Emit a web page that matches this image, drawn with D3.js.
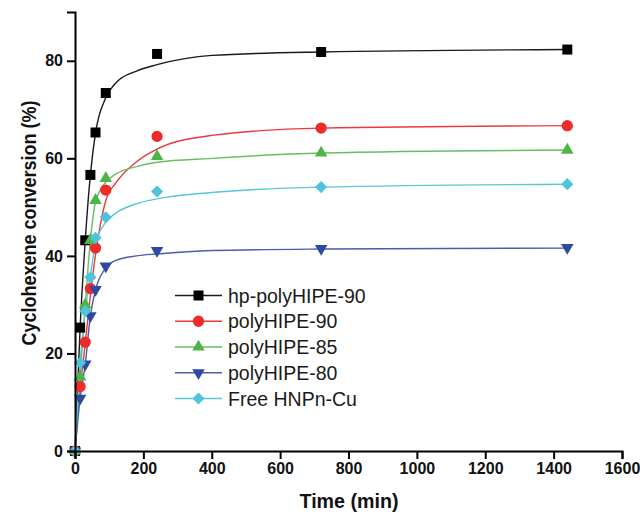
<!DOCTYPE html>
<html>
<head>
<meta charset="utf-8">
<script src="https://cdn.jsdelivr.net/npm/d3@7"></script>
<style>
  html, body { margin: 0; padding: 0; background: #fff; }
  svg { display: block; font-family: "Liberation Sans", Arial, Helvetica, sans-serif; }
</style>
</head>
<body>
<svg id="chart" width="640" height="515"></svg>
<script>
// ---- data ----
const times = [0, 15, 30, 45, 60, 90, 240, 720, 1440];
const hpPolyHIPE90 = [0, 25.3, 43.2, 56.6, 65.3, 73.4, 81.4, 81.8, 82.3];
const polyHIPE90   = [0, 13.2, 22.3, 33.3, 41.6, 53.5, 64.5, 66.2, 66.7];
const polyHIPE85   = [0, 15.2, 30.0, 43.2, 51.4, 55.9, 60.4, 61.1, 61.7];
const polyHIPE80   = [0, 10.8, 17.8, 27.7, 33.1, 37.9, 41.1, 41.5, 41.7];
const freeHNPnCu   = [0, 18.1, 28.7, 35.6, 43.7, 47.9, 53.2, 54.1, 54.7];

// fitted curves
const fitTimes = [0, 15, 30, 45, 60, 90, 120, 180, 240, 400, 720, 1440];
const fitHp    = [0, 25.3, 43.2, 56.6, 65.2, 72.4, 75.5, 77.9, 79.2, 81.1, 81.8, 82.3];
const fit90    = [0, 12.8, 22.0, 32.0, 40.2, 51.3, 55.0, 59.3, 61.9, 64.7, 66.2, 66.7];
const fit85    = [0, 15.2, 30.0, 43.2, 51.0, 55.1, 56.8, 58.3, 59.2, 60.0, 61.1, 61.7];
const fit80    = [0, 10.8, 17.8, 27.7, 33.0, 37.5, 39.1, 40.0, 40.4, 41.1, 41.4, 41.6];
const fitFree  = [0, 18.1, 28.7, 36.0, 42.5, 46.9, 48.8, 50.7, 51.7, 53.0, 54.1, 54.7];

const seriesNames = ["hp-polyHIPE-90", "polyHIPE-90", "polyHIPE-85", "polyHIPE-80", "Free HNPn-Cu"];
const xTicks = [0, 200, 400, 600, 800, 1000, 1200, 1400, 1600];
const yTicks = [0, 20, 40, 60, 80];
const xTitle = "Time (min)";
const yTitle = "Cyclohexene conversion (%)";

// ---- styling ----
const styles = [
  { values: hpPolyHIPE90, fit: fitHp,   line: "#1a1a1a", fill: "#000000", shape: "square" },
  { values: polyHIPE90,   fit: fit90,   line: "#e8393c", fill: "#ee2a2a", shape: "circle" },
  { values: polyHIPE85,   fit: fit85,   line: "#68bd62", fill: "#4db548", shape: "triUp" },
  { values: polyHIPE80,   fit: fit80,   line: "#4a5cab", fill: "#2d4aa3", shape: "triDown" },
  { values: freeHNPnCu,   fit: fitFree, line: "#58c6da", fill: "#4fc3d9", shape: "diamond" }
];

const svg = d3.select("#chart");
const x = d3.scaleLinear().domain([0, 1600]).range([75, 622]);
const y = d3.scaleLinear().domain([0, 90]).range([451, 12]);

function shapePath(shape) {
  switch (shape) {
    case "square":  return d3.symbol(d3.symbolSquare, 100)();
    case "circle":  return d3.symbol(d3.symbolCircle, 100)();
    case "triUp":   return d3.symbol(d3.symbolTriangle, 68)();
    case "triDown": return d3.symbol(d3.symbolTriangle, 68)();
    case "diamond": return d3.symbol(d3.symbolSquare, 74)();
  }
}
function shapeRot(shape) {
  if (shape === "triDown") return 180;
  if (shape === "diamond") return 45;
  return 0;
}

// ---- fitted lines ----
const line = d3.line().x(d => x(d[0])).y(d => y(d[1])).curve(d3.curveMonotoneX);
styles.forEach(s => {
  svg.append("path")
    .attr("d", line(fitTimes.map((t, i) => [t, s.fit[i]])))
    .attr("fill", "none")
    .attr("stroke", s.line)
    .attr("stroke-width", 1.4);
});

// ---- markers ----
styles.forEach(s => {
  svg.append("g").selectAll("path")
    .data(times.map((t, i) => [t, s.values[i]]))
    .join("path")
    .attr("d", shapePath(s.shape))
    .attr("transform", d => `translate(${x(d[0])},${y(d[1])}) rotate(${shapeRot(s.shape)})`)
    .attr("fill", s.fill);
});

// ---- axes ----
const xAxis = d3.axisBottom(x).tickValues(xTicks).tickSizeOuter(0).tickSize(8).tickPadding(4).tickFormat(d3.format("d"));
const yAxis = d3.axisLeft(y).tickValues(yTicks).tickSizeOuter(0).tickSize(8).tickPadding(4).tickFormat(d3.format("d"));

const gx = svg.append("g").attr("transform", `translate(0,${y(0)})`).call(xAxis);
const gy = svg.append("g").attr("transform", `translate(${x(0)},0)`).call(yAxis);
[gx, gy].forEach(g => {
  g.select(".domain").attr("stroke", "#000").attr("stroke-width", 2);
  g.selectAll(".tick line").attr("stroke", "#000").attr("stroke-width", 2);
  g.selectAll(".tick text")
    .attr("fill", "#111")
    .style("font-size", "16px")
    .style("font-weight", "bold")
    .style("font-family", "'Liberation Sans', Arial, sans-serif");
});

svg.append("text")
  .attr("x", 349).attr("y", 508)
  .attr("text-anchor", "middle")
  .attr("textLength", 99).attr("lengthAdjust", "spacingAndGlyphs")
  .style("font-size", "21px").style("font-weight", "bold")
  .attr("fill", "#111")
  .text(xTitle);

svg.append("text")
  .attr("transform", "translate(36,223) rotate(-90)")
  .attr("text-anchor", "middle")
  .attr("textLength", 245).attr("lengthAdjust", "spacingAndGlyphs")
  .style("font-size", "20px").style("font-weight", "bold")
  .attr("fill", "#111")
  .text(yTitle);

// ---- legend ----
const legend = svg.append("g");
styles.forEach((s, i) => {
  const ly = 295.5 + i * 25.75;
  legend.append("line")
    .attr("x1", 175).attr("x2", 222).attr("y1", ly).attr("y2", ly)
    .attr("stroke", s.line).attr("stroke-width", 1.4);
  legend.append("path")
    .attr("d", shapePath(s.shape))
    .attr("transform", `translate(198.5,${ly}) rotate(${shapeRot(s.shape)})`)
    .attr("fill", s.fill);
  legend.append("text")
    .attr("x", 228).attr("y", ly + 7)
    .style("font-size", "19.5px")
    .attr("fill", "#1a1a1a")
    .text(seriesNames[i]);
});
</script>
</body>
</html>
